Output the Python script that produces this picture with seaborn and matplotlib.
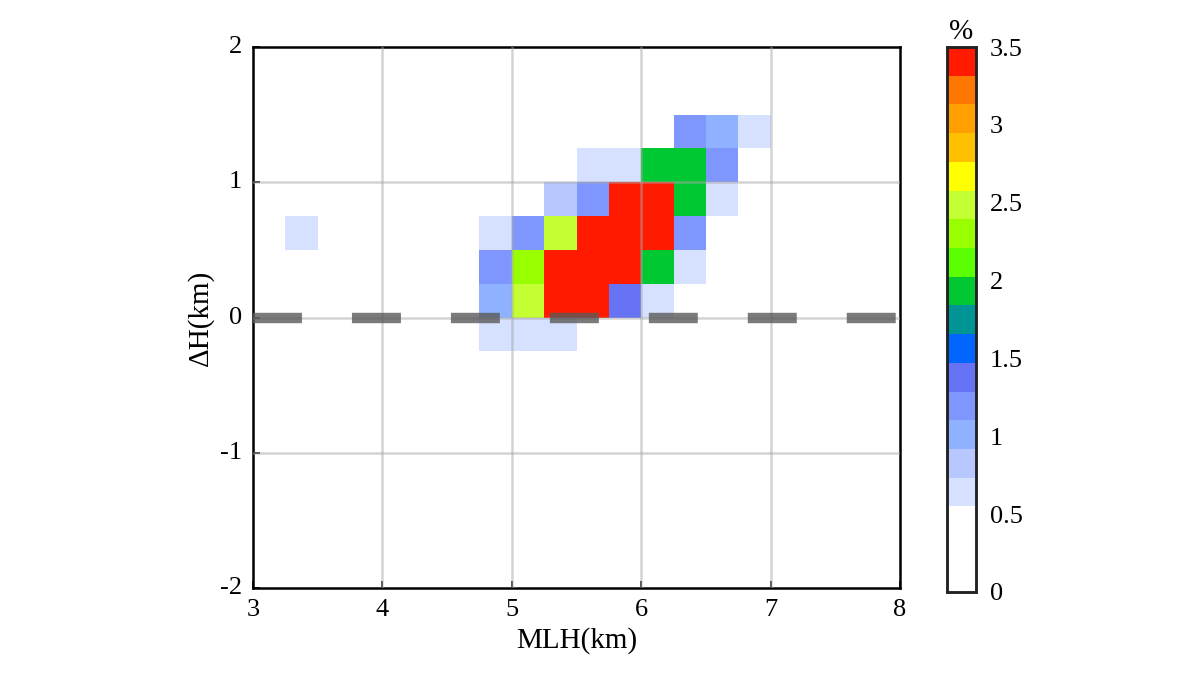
import numpy as np
import matplotlib
matplotlib.use("Agg")
import matplotlib.pyplot as plt
import seaborn as sns
from matplotlib.colors import ListedColormap, BoundaryNorm

# bin lower edges (km) and percentage values
cell_mlh = [6.25, 6.5, 6.75,
            5.5, 5.75, 6.0, 6.25, 6.5,
            5.25, 5.5, 5.75, 6.0, 6.25, 6.5,
            3.25, 4.75, 5.0, 5.25, 5.5, 5.75, 6.0, 6.25,
            4.75, 5.0, 5.25, 5.5, 5.75, 6.0, 6.25,
            4.75, 5.0, 5.25, 5.5, 5.75, 6.0,
            4.75, 5.0, 5.25]
cell_dh = [1.25, 1.25, 1.25,
           1.0, 1.0, 1.0, 1.0, 1.0,
           0.75, 0.75, 0.75, 0.75, 0.75, 0.75,
           0.5, 0.5, 0.5, 0.5, 0.5, 0.5, 0.5, 0.5,
           0.25, 0.25, 0.25, 0.25, 0.25, 0.25, 0.25,
           0.0, 0.0, 0.0, 0.0, 0.0, 0.0,
           -0.25, -0.25, -0.25]
cell_pct = [1.20, 1.01, 0.64,
            0.64, 0.64, 1.93, 1.93, 1.20,
            0.83, 1.20, 3.45, 3.45, 1.93, 0.64,
            0.64, 0.64, 1.20, 2.49, 3.45, 3.45, 3.45, 1.20,
            1.20, 2.30, 3.45, 3.45, 3.45, 1.93, 0.64,
            1.01, 2.49, 3.45, 3.45, 1.38, 0.64,
            0.64, 0.64, 0.64]

x_ticks = [3, 4, 5, 6, 7, 8]
y_ticks = [2, 1, 0, -1, -2]
cb_ticks = [0, 0.5, 1, 1.5, 2, 2.5, 3, 3.5]
cb_colors = ["#FFFFFF", "#D6E0FF", "#B8C8FF", "#8EB2FF", "#7F96FF", "#6673F5",
             "#0066FF", "#009494", "#00C832", "#5CFF00", "#99FF00", "#C4FF33",
             "#FFFF00", "#FFC000", "#FFA000", "#FF7700", "#FF1A00"]

plt.rcParams['font.family'] = ['Liberation Serif', 'DejaVu Serif']

step = 0.25
nx, ny = 20, 16
grid = np.zeros((ny, nx))
for x, y, v in zip(cell_mlh, cell_dh, cell_pct):
    j = int(round((x - 3) / step))
    i = int(round((2 - (y + step)) / step))
    grid[i, j] = v

bounds = [0, 0.55] + list(0.55 + 0.184375 * np.arange(1, 17))
cmap = ListedColormap(cb_colors)
norm = BoundaryNorm(bounds, cmap.N)

fig = plt.figure(figsize=(12, 6.75), dpi=100)
ax = fig.add_axes([253/1200, 1-588/675, 647/1200, 541/675])
cax = fig.add_axes([947/1200, 1-592/675, 29/1200, 545/675])

sns.heatmap(grid, ax=ax, cmap=cmap, norm=norm, cbar_ax=cax,
            cbar_kws={'spacing': 'proportional', 'ticks': cb_ticks})

def xp(v): return (v - 3) / step
def yp(v): return (2 - v) / step

for v in x_ticks[1:-1]:
    ax.axvline(xp(v), color='#A8A8A8', alpha=0.5, lw=1.8, zorder=3)
for v in y_ticks[1:-1]:
    ax.axhline(yp(v), color='#A8A8A8', alpha=0.5, lw=1.8, zorder=3)
ln, = ax.plot([xp(3), xp(8)], [yp(0), yp(0)], color='#5A5A5A', alpha=0.8,
              lw=7.5, solid_capstyle='butt', zorder=4)
ln.set_dashes([4.7, 4.8])
ln.set_dash_capstyle('butt')

ax.set_xticks([xp(v) for v in x_ticks])
ax.set_xticklabels([str(v) for v in x_ticks], rotation=0)
ax.set_yticks([yp(v) for v in y_ticks])
ax.set_yticklabels([str(v) for v in y_ticks], rotation=0)
ax.set_xlim(0, nx)
ax.set_ylim(ny, 0)
ax.tick_params(labelsize=19, direction='in', length=5, width=1.2, pad=8)
for s in ax.spines.values():
    s.set_visible(True); s.set_linewidth(1.8); s.set_color('black')
ax.set_xlabel('MLH(km)', fontsize=21)
ax.set_ylabel('ΔH(km)', fontsize=21)

cax.minorticks_off()
cax.tick_params(which='both', labelsize=19, length=0, pad=10)
cax.set_yticklabels(['0', '0.5', '1', '1.5', '2', '2.5', '3', '3.5'])
for s in cax.spines.values():
    s.set_visible(True); s.set_linewidth(1.8); s.set_color('#222222')
cax.set_title('%', fontsize=21, pad=6)

fig.savefig('out.png', dpi=100)
